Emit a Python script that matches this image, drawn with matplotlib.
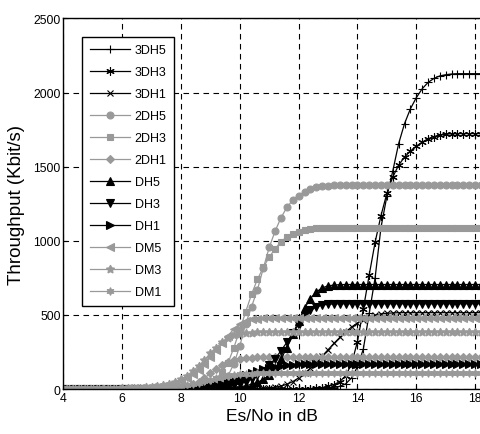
import numpy as np
import matplotlib
matplotlib.use("Agg")
import matplotlib.pyplot as plt

plt.rcParams['font.family'] = ['Liberation Sans', 'DejaVu Sans']

# Es/No grid in dB (0.2 dB steps)
esno = np.round(np.arange(4.0, 18.41, 0.2), 1)

# throughput in Kbit/s for each packet type, one value per grid point
tp_3dh5 = [0] * 43 + [2, 4, 6, 10, 18, 35, 75, 150, 270, 510, 750, 1090, 1300, 1470,
                      1655, 1790, 1890, 1965, 2025, 2068, 2095, 2112, 2120, 2125] + [2127] * 6
tp_3dh3 = [0] * 42 + [3, 6, 10, 18, 30, 50, 90, 170, 320, 540, 770, 990, 1170, 1320, 1430,
                      1510, 1565, 1605, 1638, 1665, 1688, 1703, 1713, 1719, 1722] + [1723] * 6
tp_3dh1 = [0] * 33 + [2, 4, 7, 12, 20, 32, 50, 75, 105, 140, 180, 222, 265, 308, 348,
                      385, 418, 446, 468, 485, 498, 506, 511, 513] + [515] * 16
tp_2dh5 = [0] * 23 + [3, 8, 15, 30, 55, 90, 170, 290, 440, 555, 670, 815, 955, 1065, 1155,
                      1225, 1275, 1305, 1330, 1348, 1360, 1367, 1371, 1373] + [1375] * 26
tp_2dh3 = [0] * 22 + [5, 10, 20, 40, 70, 115, 175, 280, 400, 520, 640, 740, 820, 890, 945,
                      995, 1025, 1048, 1062, 1072, 1079, 1083, 1086] + [1087] * 28
tp_2dh1 = [0] * 15 + [3, 5, 7, 9, 12, 15, 22, 32, 50, 75, 105, 135, 160, 180, 195,
                      204, 209, 212, 214] + [215] * 39
tp_dh5 = [0] * 27 + [3, 6, 10, 15, 22, 32, 45, 65, 95, 140, 200, 280, 370, 460, 545,
                     610, 655, 682, 696, 701, 704] + [705] * 25
tp_dh3 = [0] * 25 + [3, 6, 10, 16, 25, 36, 50, 68, 92, 122, 160, 205, 258, 315, 375,
                     435, 490, 530, 553, 566, 572, 574] + [575] * 26
tp_dh1 = [0] * 20 + [2, 3, 5, 8, 12, 18, 26, 36, 48, 62, 77, 92, 107, 120, 132,
                     142, 150, 157, 162, 165, 167, 169] + [170] * 31
tp_dm5 = [0] * 10 + [3, 4, 6, 8, 10, 12, 16, 22, 30, 40, 55, 75, 100, 130, 170, 215, 260,
                     310, 360, 405, 440, 460, 470, 474] + [476] * 39
tp_dm3 = [0] * 10 + [4, 5, 7, 9, 12, 15, 20, 27, 36, 48, 65, 90, 120, 155, 195, 240, 280,
                     315, 343, 362, 373, 378, 381] + [382] * 40
tp_dm1 = [0] * 10 + [1, 1, 2, 2, 3, 4, 6, 8, 11, 15, 20, 26, 34, 43, 53, 63, 73,
                     82, 89, 95, 99, 102, 104] + [105] * 40

labels = ['3DH5', '3DH3', '3DH1', '2DH5', '2DH3', '2DH1',
          'DH5', 'DH3', 'DH1', 'DM5', 'DM3', 'DM1']
series = [tp_3dh5, tp_3dh3, tp_3dh1, tp_2dh5, tp_2dh3, tp_2dh1,
          tp_dh5, tp_dh3, tp_dh1, tp_dm5, tp_dm3, tp_dm1]

BLACK = 'k'
GRAY = '#999999'
styles = [
    (BLACK, '+', 6),
    (BLACK, (6, 2, 0), 6),
    (BLACK, 'x', 4.2),
    (GRAY, 'o', 5),
    (GRAY, 's', 4.6),
    (GRAY, 'D', 4.2),
    (BLACK, '^', 5.8),
    (BLACK, 'v', 5.8),
    (BLACK, '>', 5.8),
    (GRAY, '<', 5.8),
    (GRAY, (5, 1, 0), 6.2),
    (GRAY, (6, 1, 0), 5.6),
]

fig = plt.figure(figsize=(4.81, 4.35), dpi=100)
ax = fig.add_axes([0.1316, 0.1034, 0.8684, 0.852])

for lab, vals, (col, mk, ms) in zip(labels, series, styles):
    ax.plot(esno, vals, color=col, lw=0.9, marker=mk, markersize=ms,
            markerfacecolor=col, markeredgecolor=col, markeredgewidth=0.8,
            label=lab)

ax.set_xlim(4, 18.2)
ax.set_ylim(0, 2500)
ax.set_xticks(np.arange(4, 19, 2))
ax.set_yticks(np.arange(0, 2501, 500))
ax.grid(True, color='k', linestyle=(0, (5, 4)), linewidth=0.8)
ax.tick_params(direction='in', length=3, labelsize=8.8, pad=2)
ax.spines['right'].set_visible(False)
for s in ('left', 'top', 'bottom'):
    ax.spines[s].set_linewidth(1.0)

ax.set_xlabel('Es/No in dB', fontsize=12.5, labelpad=3)
ax.set_ylabel('Throughput (Kbit/s)', fontsize=13.5, labelpad=6)

leg = ax.legend(loc='upper left', bbox_to_anchor=(0.045, 0.95),
                borderaxespad=0, fontsize=9, handlelength=3.2,
                labelspacing=0.8, fancybox=False, framealpha=1,
                edgecolor='k', borderpad=0.6, handletextpad=0.4)
leg.get_frame().set_linewidth(1.0)

fig.savefig('out.png', dpi=100)
